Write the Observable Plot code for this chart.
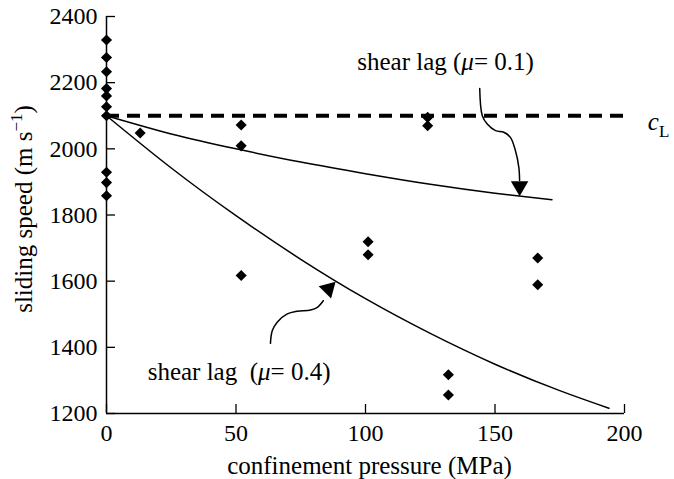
<!DOCTYPE html>
<html>
<head>
<meta charset="utf-8">
<script src="https://cdn.jsdelivr.net/npm/d3@7"></script>
<script src="https://cdn.jsdelivr.net/npm/@observablehq/plot@0.6"></script>
<style>
  html, body { margin: 0; padding: 0; background: #fff; }
  #chart { width: 674px; height: 479px; }
  #chart svg, #chart svg text, #chart svg tspan { font-family: "Liberation Serif", "DejaVu Serif", serif !important; }
</style>
</head>
<body>
<div id="chart"></div>
<script>
// ---- data ----
const xTicks = [0, 50, 100, 150, 200];
const yTicks = [1200, 1400, 1600, 1800, 2000, 2200, 2400];

// experimental points (confinement pressure MPa, sliding speed m/s)
const expPressure = [0, 0, 0, 0, 0, 0, 0, 0, 0, 0, 13, 52, 52, 52, 101, 101, 124, 124, 132, 132, 166.5, 166.5];
const expSpeed    = [2329, 2276, 2233, 2182, 2160, 2127, 2100, 1929, 1898, 1858, 2048, 2072, 2009, 1617, 1719, 1680, 2095, 2070, 1317, 1256, 1670, 1589];

// shear lag model curves
const lag01Pressure = [0, 25, 50, 75, 100, 125, 150, 172];
const lag01Speed    = [2100, 2045, 2000, 1960, 1925, 1893, 1866, 1846];
const lag04Pressure = [0, 25, 50, 75, 100, 125, 150, 175, 194];
const lag04Speed    = [2100, 1942, 1798, 1666, 1547, 1442, 1349, 1269, 1216];

// longitudinal wave speed c_L
const cL = 2100;
const cLEnd = 201;

// annotation arrows (pressure, speed)
const arrow01Pressure = [144.1, 145.1, 147.0, 150.2, 153.4, 156.0, 157.9, 159.2, 159.5];
const arrow01Speed    = [2182, 2100, 2075, 2055, 2050, 2034, 1994, 1944, 1904];
const arrow04Pressure = [63.3, 64.0, 65.9, 69.8, 73.6, 78.8, 81.4, 83.7];
const arrow04Speed    = [1412, 1450, 1476, 1501, 1509, 1513, 1521, 1541];
const arrowHeads = [
  {p: 159.5, v: 1887, angle: 180},
  {p: 85.7, v: 1577, angle: 45}
];
const labels = [
  {p: 96.8, v: 2262, text: "shear lag (μ= 0.1)"},
  {p: 15.9, v: 1326, text: "shear lag  (μ= 0.4)"}
];
const cLLabel = [{p: 209, v: 2080, text: "cL"}];

// ---- tables ----
const points = expPressure.map((p, i) => ({p, v: expSpeed[i]}));
const lag01 = lag01Pressure.map((p, i) => ({p, v: lag01Speed[i]}));
const lag04 = lag04Pressure.map((p, i) => ({p, v: lag04Speed[i]}));
const arr01 = arrow01Pressure.map((p, i) => ({p, v: arrow01Speed[i]}));
const arr04 = arrow04Pressure.map((p, i) => ({p, v: arrow04Speed[i]}));

const font = "Liberation Serif, DejaVu Serif, serif";

const chart = Plot.plot({
  width: 674,
  height: 479,
  marginLeft: 106,
  marginRight: 50,
  marginTop: 16,
  marginBottom: 66,
  style: {fontFamily: font, fontSize: "24px", background: "#fff", color: "#000"},
  x: {domain: [0, 200]},
  y: {domain: [1200, 2400]},
  marks: [
    Plot.axisX({ticks: xTicks, tickSize: -9, tickPadding: 19, tickFormat: d => String(d), label: null, fontSize: 24, fontFamily: font, strokeWidth: 1.3}),
    Plot.axisY({ticks: yTicks, tickSize: -9, tickPadding: 18, tickFormat: d => String(d), label: null, fontSize: 24, fontFamily: font, strokeWidth: 1.3}),
    Plot.ruleY([1200], {stroke: "#000", strokeWidth: 1.5}),
    Plot.ruleX([0], {stroke: "#000", strokeWidth: 1.5}),
    Plot.ruleY([cL], {x1: 0, x2: cLEnd, stroke: "#000", strokeWidth: 4, strokeDasharray: "13,8"}),
    Plot.line(lag01, {x: "p", y: "v", curve: "natural", stroke: "#000", strokeWidth: 1.5}),
    Plot.line(lag04, {x: "p", y: "v", curve: "natural", stroke: "#000", strokeWidth: 1.5}),
    Plot.line(arr01, {x: "p", y: "v", curve: "catmull-rom", stroke: "#000", strokeWidth: 1.5}),
    Plot.line(arr04, {x: "p", y: "v", curve: "catmull-rom", stroke: "#000", strokeWidth: 1.5}),
    Plot.dot(arrowHeads, {x: "p", y: "v", symbol: "triangle", r: 6.5, fill: "#000", rotate: "angle"}),
    Plot.dot(points, {x: "p", y: "v", symbol: "diamond2", r: 5, fill: "#000", stroke: null}),
    Plot.text(labels, {x: "p", y: "v", text: "text", textAnchor: "start", lineAnchor: "middle", fontSize: 25, fontFamily: font}),
    Plot.text(cLLabel, {x: "p", y: "v", text: "text", textAnchor: "start", lineAnchor: "middle", fontSize: 25, fontFamily: font}),
    Plot.text(["confinement pressure (MPa)"], {frameAnchor: "bottom", textAnchor: "middle", dx: 4, dy: 52, lineAnchor: "middle", fontSize: 25, fontFamily: font}),
    Plot.text(["sliding speed (m s-1)"], {frameAnchor: "left", textAnchor: "middle", dx: -83, dy: -6, rotate: -90, lineAnchor: "middle", fontSize: 25, fontFamily: font})
  ]
});

document.getElementById("chart").appendChild(chart);

// ---- typographic refinements: italic μ, superscript, subscript ----
d3.select(chart).selectAll("text").each(function() {
  const t = d3.select(this);
  if (t.selectAll("tspan").size() > 0) return;
  const s = this.textContent;
  if (s.includes("μ")) {
    const [a, b] = s.split("μ");
    t.text(null);
    t.append("tspan").text(a);
    t.append("tspan").attr("font-style", "italic").text("μ");
    t.append("tspan").text(b);
  } else if (s === "cL") {
    t.text(null);
    t.append("tspan").attr("font-style", "italic").text("c");
    t.append("tspan").attr("font-size", 17).attr("dy", 7).text("L");
  } else if (s === "sliding speed (m s-1)") {
    t.text(null);
    t.append("tspan").text("sliding speed (m s");
    t.append("tspan").attr("font-size", 17).attr("dy", -10).text("−1");
    t.append("tspan").attr("dy", 10).text(")");
  }
});
</script>
</body>
</html>
